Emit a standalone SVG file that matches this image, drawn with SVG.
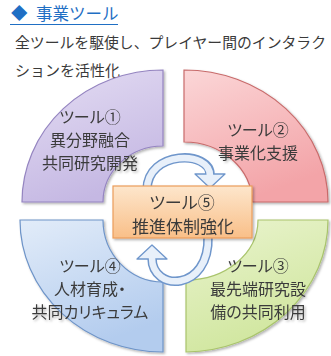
<svg xmlns="http://www.w3.org/2000/svg" width="331" height="356" viewBox="0 0 331 356">
<defs>
<linearGradient id="gP" x1="0" y1="0" x2="0.4" y2="1"><stop offset="0" stop-color="#e4ddf3"/><stop offset="1" stop-color="#c5b8e3"/></linearGradient>
<linearGradient id="gR" x1="0" y1="0" x2="0.4" y2="1"><stop offset="0" stop-color="#fbd6d7"/><stop offset="1" stop-color="#f3a4a8"/></linearGradient>
<linearGradient id="gG" x1="0" y1="0" x2="0.4" y2="1"><stop offset="0" stop-color="#eaf4cf"/><stop offset="1" stop-color="#d0e69e"/></linearGradient>
<linearGradient id="gB" x1="0" y1="0" x2="0.4" y2="1"><stop offset="0" stop-color="#e2ecf9"/><stop offset="1" stop-color="#b3ccee"/></linearGradient>
<linearGradient id="gO" x1="0" y1="0" x2="0" y2="1"><stop offset="0" stop-color="#fde6cc"/><stop offset="1" stop-color="#f9bf88"/></linearGradient>
<filter id="sh" x="-10%" y="-10%" width="125%" height="125%"><feDropShadow dx="1.5" dy="1.5" stdDeviation="1.2" flood-color="#000" flood-opacity="0.3"/></filter>
</defs>
<style>
text{font-family:"Noto Sans CJK JP","Noto Sans",sans-serif;}
.h{fill:#1f6fc4;font-size:16.5px;}
.b{fill:#3a3a3a;font-size:15px;}
.q{fill:#3a3a3a;font-size:16px;text-anchor:middle;dominant-baseline:central;font-feature-settings:"palt";}
.q5{font-size:17px;}
.band{fill:none;stroke:#6f96cb;stroke-width:9.5;}
.bandIn{fill:none;stroke:#e8f0fa;stroke-width:6.5;}
.head{fill:#e8f0fa;stroke:#6f96cb;stroke-width:1.3;stroke-linejoin:round;}
</style>
<g id="header">
<text class="h"><tspan x="11" y="20">◆</tspan><tspan x="36" y="20">事業ツール</tspan></text>
<line x1="10" y1="24.5" x2="118" y2="24.5" stroke="#1f6fc4" stroke-width="1"/>
<text class="b" x="15" y="48" textLength="311" lengthAdjust="spacingAndGlyphs">全ツールを駆使し、プレイヤー間のインタラク</text>
<text class="b" x="15" y="76">ションを活性化</text>
</g>
<g id="tool1" filter="url(#sh)">
<path d="M163,70 L163,146 A60 56 0 0 0 103,202 L22,202 A141 132 0 0 1 163,70 Z" fill="url(#gP)" stroke="#9484c0" stroke-width="1.2"/>
<text class="q" x="90" y="116">ツール①</text>
<text class="q" x="90" y="139">異分野融合</text>
<text class="q" x="90" y="162">共同研究開発</text>
</g>
<g id="tool2" filter="url(#sh)">
<path d="M184,70 A144 132 0 0 1 328,202 L252,202 A68 60 0 0 0 184,142 Z" fill="url(#gR)" stroke="#c86b6b" stroke-width="1.2"/>
<text class="q" x="258" y="129">ツール②</text>
<text class="q" x="258" y="152">事業化支援</text>
</g>
<g id="tool3" filter="url(#sh)">
<path d="M258,220 L328,220 A144 132 0 0 1 186,352 L186,280 A72 60 0 0 0 258,220 Z" fill="url(#gG)" stroke="#a9c46c" stroke-width="1.2"/>
<text class="q" x="258" y="265">ツール③</text>
<text class="q" x="258" y="288">最先端研究設</text>
<text class="q" x="258" y="311">備の共同利用</text>
</g>
<g id="tool4" filter="url(#sh)">
<path d="M20,220 L103,220 A60 62 0 0 0 163,282 L163,352 A143 132 0 0 1 20,220 Z" fill="url(#gB)" stroke="#6e94c8" stroke-width="1.2"/>
<text class="q" x="90" y="265">ツール④</text>
<text class="q" x="90" y="288">人材育成・</text>
<text class="q" x="90" y="311">共同カリキュラム</text>
</g>
<g id="connectors">
<path class="band" d="M147,190 C147,150 211,150 210,175"/>
<polygon class="head" points="195,174 225,174 210,188"/>
<path class="bandIn" d="M147,190 C147,150 211,150 210,176"/>
<path class="band" d="M208,236 C210,292 152,292 152,258"/>
<polygon class="head" points="137,259 167,259 152,245"/>
<path class="bandIn" d="M208,236 C210,292 152,292 152,258"/>
</g>
<g id="tool5" filter="url(#sh)">
<rect x="113" y="186" width="139" height="52" fill="url(#gO)" stroke="#eb9d5a" stroke-width="1.2"/>
<text class="q q5" x="182" y="201">ツール⑤</text>
<text class="q q5" x="183" y="225">推進体制強化</text>
</g>
</svg>
